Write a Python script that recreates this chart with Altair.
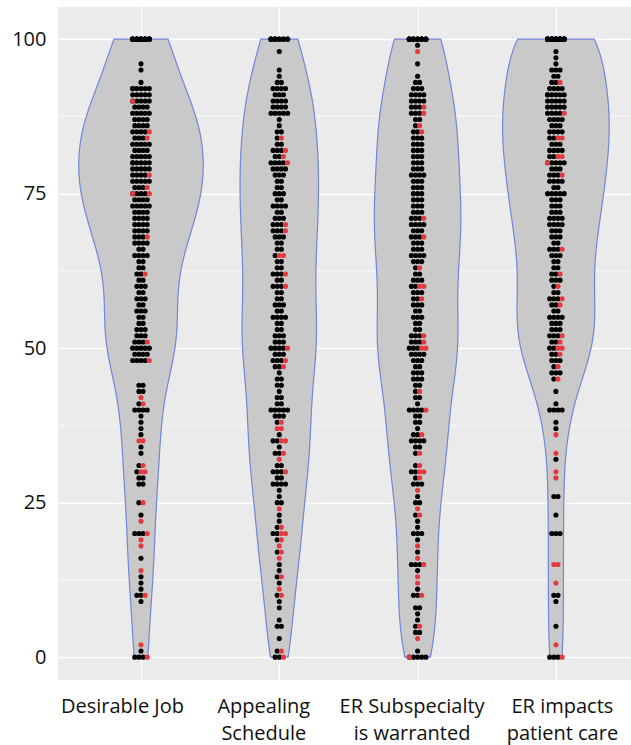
import json
import altair as alt
import pandas as pd

# ---------------- data ----------------
# x-axis category labels (one list of lines per category)
categories = [
    ["Desirable Job"],
    ["Appealing", "Schedule"],
    ["ER Subspecialty", "is warranted"],
    ["ER impacts", "patient care"],
]

# (score, number of black dots, number of red dots)
desirable_job = [
    (100, 20, 0), (96, 1, 0), (95, 1, 0), (93, 1, 0), (92, 6, 0), (91, 5, 0), (90, 5, 1), (89, 4, 0),
    (88, 5, 0), (87, 4, 0), (86, 4, 0), (85, 4, 1), (84, 3, 1), (83, 5, 0), (82, 4, 0), (81, 5, 0),
    (80, 6, 0), (79, 5, 0), (78, 4, 1), (77, 5, 0), (76, 3, 1), (75, 4, 2), (74, 4, 0), (73, 5, 0),
    (72, 4, 0), (71, 4, 0), (70, 4, 0), (69, 4, 0), (68, 3, 1), (67, 4, 0), (66, 2, 0), (65, 4, 0),
    (64, 2, 0), (63, 2, 0), (62, 2, 1), (61, 2, 0), (60, 3, 0), (59, 2, 0), (58, 3, 0), (57, 2, 0),
    (56, 3, 0), (55, 2, 0), (54, 2, 0), (53, 3, 0), (52, 3, 0), (51, 3, 1), (50, 5, 0), (49, 4, 0),
    (48, 4, 1), (44, 2, 0), (43, 2, 0), (42, 0, 1), (41, 1, 1), (40, 4, 0), (39, 1, 0), (38, 1, 0),
    (37, 1, 0), (36, 1, 0), (35, 0, 2), (34, 1, 0), (33, 1, 0), (31, 1, 1), (30, 1, 2), (29, 2, 0),
    (28, 2, 0), (25, 1, 1), (23, 1, 0), (22, 0, 1), (20, 3, 1), (19, 0, 1), (18, 0, 1), (16, 1, 0),
    (14, 0, 1), (13, 1, 0), (12, 1, 0), (11, 1, 0), (10, 2, 1), (9, 1, 0), (2, 0, 1), (1, 1, 0),
    (0, 3, 1),
]
appealing_schedule = [
    (100, 12, 0), (98, 1, 0), (95, 1, 0), (94, 1, 0), (93, 2, 0), (92, 4, 0), (91, 3, 0), (90, 4, 0),
    (89, 4, 0), (88, 5, 0), (87, 1, 0), (86, 1, 0), (85, 2, 0), (84, 1, 1), (83, 2, 0), (82, 3, 1),
    (81, 2, 1), (80, 4, 1), (79, 4, 0), (78, 3, 0), (77, 2, 0), (76, 2, 0), (75, 3, 0), (74, 2, 0),
    (73, 4, 0), (72, 2, 0), (71, 3, 0), (70, 3, 1), (69, 3, 1), (68, 3, 0), (67, 2, 0), (66, 2, 0),
    (65, 1, 2), (64, 2, 0), (63, 2, 0), (62, 3, 1), (61, 2, 0), (60, 3, 1), (59, 2, 0), (58, 2, 0),
    (57, 3, 0), (56, 2, 0), (55, 4, 0), (54, 2, 0), (53, 2, 0), (52, 3, 0), (51, 3, 0), (50, 4, 1),
    (49, 3, 0), (48, 3, 1), (47, 2, 1), (46, 1, 0), (45, 2, 0), (44, 2, 0), (43, 1, 0), (42, 2, 0),
    (41, 2, 0), (40, 5, 0), (39, 3, 0), (38, 1, 1), (37, 0, 2), (36, 1, 0), (35, 2, 2), (34, 1, 0),
    (33, 2, 1), (32, 0, 1), (31, 2, 0), (30, 3, 1), (29, 2, 0), (28, 4, 0), (27, 1, 0), (26, 1, 0),
    (25, 2, 0), (24, 0, 1), (23, 1, 0), (22, 1, 0), (21, 1, 1), (20, 2, 2), (19, 1, 1), (18, 0, 1),
    (17, 1, 1), (16, 0, 1), (15, 1, 0), (14, 1, 0), (13, 1, 1), (12, 1, 0), (11, 0, 1), (10, 1, 1),
    (9, 1, 0), (8, 1, 0), (6, 1, 0), (5, 2, 0), (3, 1, 0), (1, 1, 1), (0, 2, 1),
]
er_subspecialty = [
    (100, 16, 0), (99, 1, 0), (98, 0, 1), (96, 1, 0), (94, 1, 0), (93, 2, 0), (92, 3, 0), (91, 4, 0),
    (90, 4, 0), (89, 3, 1), (88, 3, 1), (87, 2, 0), (86, 1, 1), (85, 2, 1), (84, 3, 0), (83, 3, 0),
    (82, 3, 0), (81, 3, 0), (80, 3, 0), (79, 3, 0), (78, 4, 0), (77, 3, 0), (76, 3, 0), (75, 3, 0),
    (74, 3, 0), (73, 3, 0), (72, 3, 0), (71, 3, 1), (70, 4, 0), (69, 3, 0), (68, 3, 1), (67, 3, 0),
    (66, 3, 0), (65, 4, 0), (64, 3, 0), (63, 1, 1), (62, 2, 0), (61, 3, 0), (60, 2, 2), (59, 3, 0),
    (58, 2, 1), (57, 3, 0), (56, 2, 0), (55, 3, 0), (54, 2, 0), (53, 2, 0), (52, 3, 1), (51, 3, 1),
    (50, 3, 2), (49, 4, 0), (48, 3, 0), (47, 2, 0), (46, 3, 0), (45, 3, 0), (44, 2, 0), (43, 1, 1),
    (42, 2, 0), (41, 1, 0), (40, 4, 1), (39, 2, 0), (38, 2, 0), (37, 1, 0), (36, 2, 1), (35, 4, 0),
    (34, 2, 0), (33, 1, 1), (31, 1, 1), (30, 2, 2), (29, 1, 1), (28, 3, 0), (27, 0, 1), (26, 1, 0),
    (25, 2, 0), (24, 0, 1), (23, 1, 1), (22, 1, 0), (21, 1, 0), (20, 3, 0), (19, 1, 0), (18, 0, 1),
    (17, 1, 0), (16, 0, 1), (15, 3, 1), (14, 1, 0), (13, 0, 1), (12, 0, 1), (11, 1, 0), (10, 2, 1),
    (8, 2, 0), (7, 1, 0), (6, 1, 0), (5, 1, 1), (4, 2, 0), (3, 0, 1), (1, 1, 0), (0, 5, 1),
]
er_impacts = [
    (100, 28, 0), (98, 1, 0), (97, 1, 0), (96, 1, 0), (95, 3, 0), (94, 2, 0), (93, 2, 1), (92, 4, 0),
    (91, 6, 0), (90, 5, 0), (89, 5, 0), (88, 4, 1), (87, 4, 0), (86, 3, 0), (85, 4, 0), (84, 2, 2),
    (83, 3, 0), (82, 4, 0), (81, 2, 2), (80, 5, 1), (79, 3, 0), (78, 3, 1), (77, 4, 0), (76, 2, 0),
    (75, 5, 0), (74, 3, 0), (73, 3, 0), (72, 3, 0), (71, 4, 0), (70, 4, 0), (69, 3, 0), (68, 3, 0),
    (67, 2, 0), (66, 3, 1), (65, 3, 0), (64, 2, 0), (63, 2, 0), (62, 2, 1), (61, 3, 0), (60, 1, 1),
    (59, 2, 0), (58, 3, 1), (57, 2, 1), (56, 2, 0), (55, 4, 0), (54, 3, 0), (53, 3, 0), (52, 3, 1),
    (51, 2, 1), (50, 2, 2), (49, 2, 1), (48, 3, 0), (47, 1, 1), (46, 3, 0), (45, 1, 1), (43, 1, 0),
    (41, 1, 0), (40, 4, 0), (38, 1, 0), (37, 1, 0), (36, 0, 1), (33, 0, 1), (32, 1, 0), (30, 0, 1),
    (29, 0, 1), (26, 2, 0), (23, 1, 0), (20, 3, 0), (15, 0, 2), (12, 0, 1), (10, 2, 0), (9, 1, 0),
    (5, 1, 0), (2, 0, 1), (0, 3, 1),
]

groups = [desirable_job, appealing_schedule, er_subspecialty, er_impacts]

y_ticks = [0, 25, 50, 75, 100]
y_minor = [12.5, 37.5, 62.5, 87.5]

rows = []
for i, grp in enumerate(groups, start=1):
    for v, nb, nr in grp:
        rows += [{"cat": i, "value": v, "color": "black"}] * nb
        rows += [{"cat": i, "value": v, "color": "red"}] * nr
df = pd.DataFrame(rows)
minor_df = pd.DataFrame({"y": y_minor})

# ---------------- chart ----------------
FONT = "Open Sans"
x_domain = [0.4, 4.543]
y_domain = [-3.7, 105.2]
label_shift = [-19, -16, -6, 6]

label_expr = json.dumps(categories) + "[datum.value - 1]"
label_offset = {
    "condition": [{"test": f"datum.value == {k + 1}", "value": s} for k, s in enumerate(label_shift[:-1])],
    "value": label_shift[-1],
}

x_axis = alt.Axis(values=[1, 2, 3, 4], labelExpr=label_expr, title=None, grid=True,
                  gridColor="white", gridWidth=1.4, domain=False, ticks=False, tickSize=0,
                  labelPadding=16, labelFont=FONT, labelFontSize=20, labelColor="#111111",
                  labelLineHeight=27, labelBaseline="top", labelOffset=label_offset)
y_axis = alt.Axis(values=y_ticks, title=None, grid=True, gridColor="white", gridWidth=1.4,
                  domain=False, ticks=False, tickSize=0, labelPadding=12, labelFont=FONT,
                  labelFontSize=20, labelColor="#111111")

xs = alt.Scale(domain=x_domain, nice=False, zero=False)
ys = alt.Scale(domain=y_domain, nice=False, zero=False)

minor = alt.Chart(minor_df).mark_rule(color="white", strokeWidth=0.8).encode(
    y=alt.Y("y:Q", scale=ys, axis=y_axis)
)

# violins scaled by count (density * n), widest point = 0.45 category units
violin = alt.Chart(df).transform_density(
    "value", groupby=["cat"], extent=[0, 100], bandwidth=6, steps=200, counts=True,
    as_=["value", "density"]
).transform_joinaggregate(
    maxd="max(density)"
).transform_calculate(
    left="datum.cat - 0.45 * datum.density / datum.maxd",
    right="datum.cat + 0.45 * datum.density / datum.maxd"
).mark_area(orient="horizontal", fill="#C9C9C9", stroke="#6F86DC", strokeWidth=1.2, clip=True).encode(
    y=alt.Y("value:Q", scale=ys, axis=y_axis),
    x=alt.X("left:Q", scale=xs, axis=x_axis),
    x2="right:Q",
    detail="cat:N",
)

points = alt.Chart(df).transform_window(
    rn="row_number()", groupby=["cat", "value"], sort=[{"field": "color"}]
).transform_joinaggregate(
    n="count()", groupby=["cat", "value"]
).transform_calculate(
    xpos="datum.cat + (((datum.rn - 1) % 5) - (min(datum.n, 5) - 1) / 2) * 0.03"
).mark_circle(size=26, opacity=1, clip=True).encode(
    x=alt.X("xpos:Q", scale=xs, axis=x_axis),
    y=alt.Y("value:Q", scale=ys, axis=y_axis),
    color=alt.Color("color:N", scale=alt.Scale(domain=["black", "red"], range=["#000000", "#E43A3F"]),
                    legend=None),
)

chart = alt.layer(minor, violin, points).properties(
    width=573, height=673,
    autosize=alt.AutoSizeParams(type="none"),
    padding={"left": 58, "top": 7, "right": 0, "bottom": 65},
    background="white",
).configure_view(fill="#EBEBEB", stroke="transparent", strokeWidth=0)

chart.save("out.html", embed_options={"renderer": "svg", "actions": False})
